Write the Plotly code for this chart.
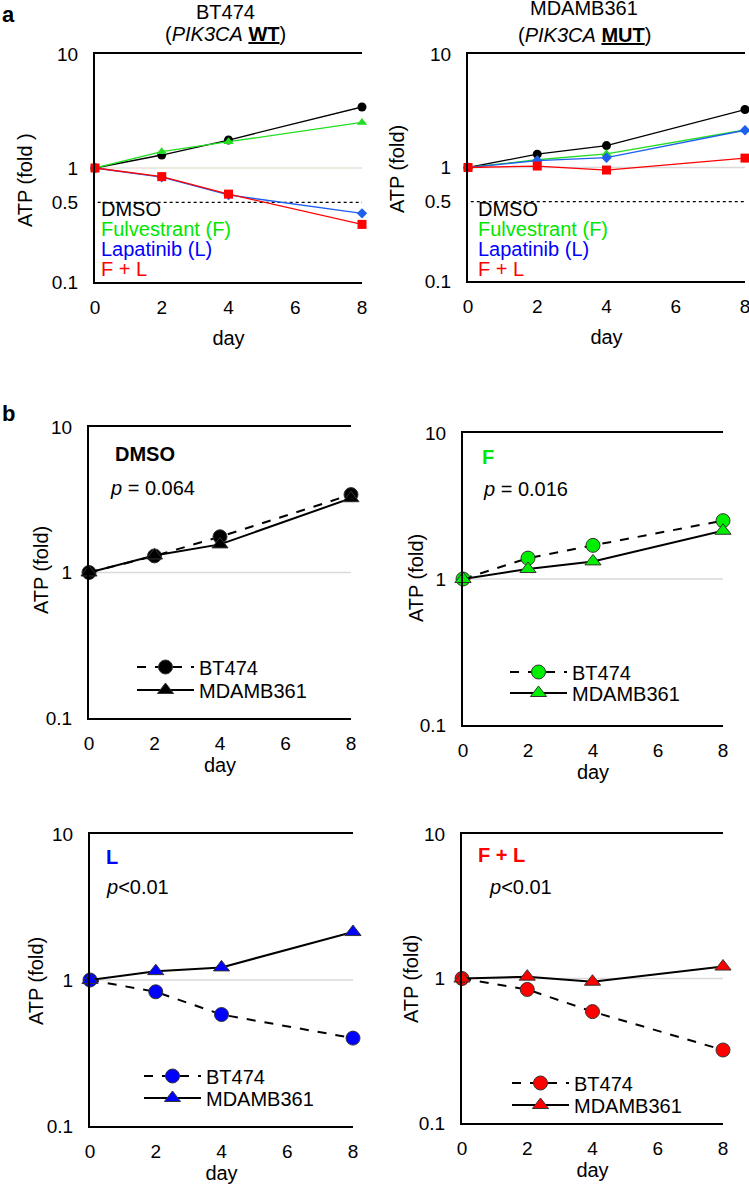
import plotly.graph_objects as go

# ---- data ----
days = [0, 2, 4, 8]

bt474_dmso = [1.0, 1.30, 1.76, 3.43]
bt474_fulv = [1.0, 1.39, 1.70, 2.51]
bt474_lap = [1.0, 0.83, 0.58, 0.40]
bt474_fl = [1.0, 0.84, 0.59, 0.32]

mda_dmso = [1.0, 1.31, 1.56, 3.24]
mda_fulv = [1.0, 1.17, 1.32, 2.14]
mda_lap = [1.0, 1.15, 1.22, 2.13]
mda_fl = [1.0, 1.03, 0.95, 1.21]

treatments = ["DMSO", "Fulvestrant (F)", "Lapatinib (L)", "F + L"]
short_names = ["DMSO", "F", "L", "F + L"]
p_values = ["<i>p</i> = 0.064", "<i>p</i> = 0.016", "<i>p</i><0.01", "<i>p</i><0.01"]
cell_lines = ["BT474", "MDAMB361"]

W, H = 749, 1185
FONT = "Liberation Sans, Arial, sans-serif"

line_cols = ["black", "#22dd22", "#1e5ff0", "#ff0000"]
text_cols = ["black", "#00e600", "#0000ff", "#ff0000"]
fill_cols = ["black", "#00ee00", "#0000ff", "#ff0000"]
a_symbols = ["circle", "triangle-up", "diamond", "square"]


def px(x0, x1):
    return [x0 / W, x1 / W]


def py(top, bottom):
    return [1 - bottom / H, 1 - top / H]


# plot-area boxes in pixels: (left, right, top, bottom)
boxes = [
    (95, 362, 54, 282),     # a, BT474
    (468, 745, 54, 281),    # a, MDAMB361
    (89, 351, 427, 718),    # b, DMSO
    (463, 723, 433, 725),   # b, F
    (90, 353, 834, 1126),   # b, L
    (462, 723, 834, 1123),  # b, F+L
]
# y-axis title centres (x, y) in pixels
ytitle_pos = [(25, 180), (397, 169), (41, 570), (416, 578), (36, 981), (411, 979)]

fig = go.Figure()

bt = [bt474_dmso, bt474_fulv, bt474_lap, bt474_fl]
md = [mda_dmso, mda_fulv, mda_lap, mda_fl]

# panel a
for k, series in enumerate([bt, md]):
    ax = "" if k == 0 else str(k + 1)
    for i, vals in enumerate(series):
        fig.add_trace(go.Scatter(
            x=days, y=vals, mode="lines+markers", showlegend=False,
            line=dict(color=line_cols[i], width=1.3),
            marker=dict(symbol=a_symbols[i], size=9 if i != 2 else 8, color=line_cols[i]),
            cliponaxis=False, xaxis="x" + ax, yaxis="y" + ax))

# panel b: one legend per entry so rows can sit where the reference has them
leg_rows = [(132, 667, 690), (505, 672, 693), (139, 1076, 1098), (507, 1083, 1105)]
legends = {}
for i in range(4):
    n = i + 3
    lx, y_bt, y_md = leg_rows[i]
    k1, k2 = "legend%d" % (2 * i + 1), "legend%d" % (2 * i + 2)
    k1 = "legend" if k1 == "legend1" else k1
    for key, yy in ((k1, y_bt), (k2, y_md)):
        legends[key] = dict(x=lx / W, y=1 - yy / H, xanchor="left", yanchor="middle",
                            bgcolor="rgba(0,0,0,0)", font=dict(size=20), itemwidth=57)
    fig.add_trace(go.Scatter(
        x=days, y=bt[i], mode="lines+markers", name=cell_lines[0], legend=k1,
        line=dict(color="black", width=2, dash="dash"),
        marker=dict(symbol="circle", size=14, color=fill_cols[i],
                    line=dict(color="#333333", width=1)),
        cliponaxis=False, xaxis="x%d" % n, yaxis="y%d" % n))
    fig.add_trace(go.Scatter(
        x=days, y=md[i], mode="lines+markers", name=cell_lines[1], legend=k2,
        line=dict(color="black", width=2),
        marker=dict(symbol="triangle-up", size=14, color=fill_cols[i],
                    line=dict(color="#333333", width=1)),
        cliponaxis=False, xaxis="x%d" % n, yaxis="y%d" % n))

layout = dict(
    width=W, height=H, margin=dict(l=0, r=0, t=0, b=0, autoexpand=False),
    paper_bgcolor="white", plot_bgcolor="white",
    font=dict(family=FONT, size=20, color="black"),
    showlegend=True,
)
layout.update(legends)

for j, (l, r, t, b) in enumerate(boxes):
    sfx = "" if j == 0 else str(j + 1)
    is_a = j < 2
    yticks = [0.1, 0.5, 1, 10] if is_a else [0.1, 1, 10]
    layout["xaxis" + sfx] = dict(
        domain=px(l, r), anchor="y" + sfx, range=[0, 8], automargin=False,
        tickvals=[0, 2, 4, 6, 8], showgrid=False, zeroline=False,
        showline=True, linecolor="black", linewidth=2, mirror=True,
        ticks="", ticklabelstandoff=7, tickfont=dict(size=19),
        ticklabeloverflow="allow",
        title=dict(text="day", font=dict(size=20), standoff=14 if is_a else 1),
    )
    layout["yaxis" + sfx] = dict(
        domain=py(t, b), anchor="x" + sfx, type="log", range=[-1, 1], automargin=False,
        tickvals=yticks, ticktext=[str(v) for v in yticks],
        showgrid=False, zeroline=False,
        showline=True, linecolor="black", linewidth=2,
        ticks="", ticklabelstandoff=11, tickfont=dict(size=19),
    )

fig.update_layout(**layout)

shapes = []
for j, (l, r, t, b) in enumerate(boxes):
    sfx = "" if j == 0 else str(j + 1)
    shapes.append(dict(type="line", xref="x%s domain" % sfx, yref="y" + sfx,
                       x0=0, x1=1, y0=1, y1=1, layer="below",
                       line=dict(color="#e6e2d6" if j == 0 else "#d9d9d9", width=1.5)))
    if j < 2:
        shapes.append(dict(type="line", xref="x%s domain" % sfx, yref="y" + sfx,
                           x0=0.01, x1=1, y0=0.5, y1=0.5, layer="below",
                           line=dict(color="black", width=1.2, dash="dot")))
fig.update_layout(shapes=shapes)

ann = []


def note(text, x, y, size=20, color="black", xanchor="left", **kw):
    ann.append(dict(text=text, x=x / W, y=1 - y / H, xref="paper", yref="paper",
                    xanchor=xanchor, yanchor="middle", showarrow=False,
                    font=dict(size=size, color=color), **kw))


# panel letters
note("<b>a</b>", 0, 15, size=22)
note("<b>b</b>", 0, 413, size=22)

# panel a titles
note("BT474", 225, 12, xanchor="center")
note("(<i>PIK3CA</i> <b><u>WT</u></b>)", 225, 34, xanchor="center")
note("MDAMB361", 584, 8, xanchor="center")
note("(<i>PIK3CA</i> <b><u>MUT</u></b>)", 584, 35, xanchor="center")

# y-axis titles
for j, (tx, ty) in enumerate(ytitle_pos):
    note("ATP (fold )" if j == 0 else "ATP (fold)", tx, ty, xanchor="center", textangle=-90)

# panel a coloured legends
for x0 in (99, 476):
    for i, name in enumerate(treatments):
        note(name, x0, 209 + 20 * i, color=text_cols[i])

# panel b labels
lab_pos = [(113, 454, 108, 488), (480, 457, 481, 489),
           (104, 857, 104, 887), (476, 855, 487, 887)]
for i, (lx, ly, qx, qy) in enumerate(lab_pos):
    note("<b>%s</b>" % short_names[i], lx, ly, color=text_cols[i] if i else "black")
    note(p_values[i], qx, qy)

fig.update_layout(annotations=ann)

fig.write_html("out.html", config={"displayModeBar": False},
               post_script="document.body.style.margin='0';")
